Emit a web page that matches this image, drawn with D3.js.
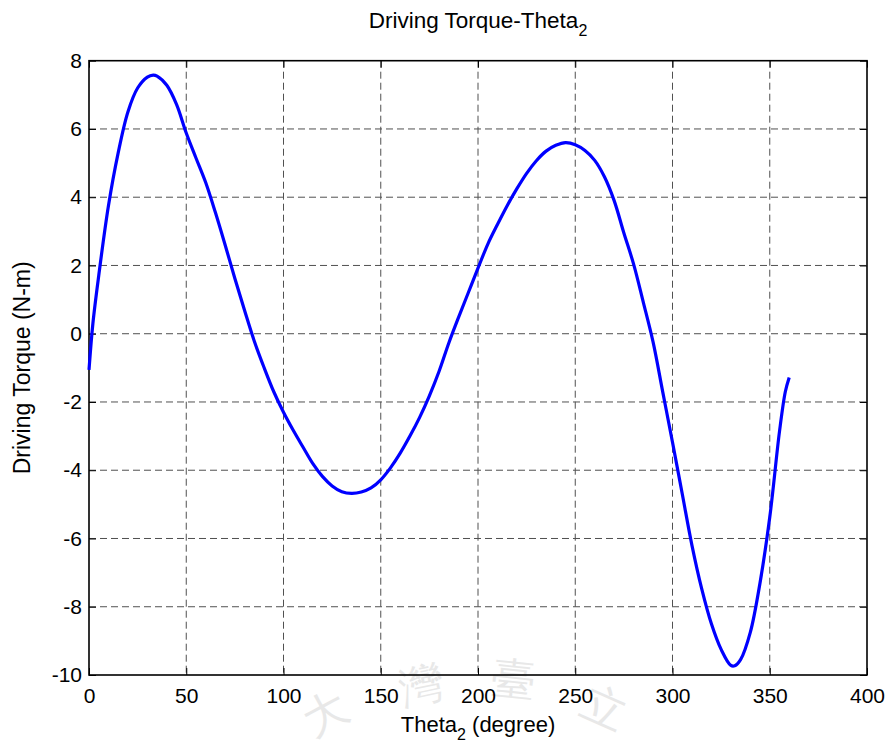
<!DOCTYPE html>
<html>
<head>
<meta charset="utf-8">
<script src="https://cdn.jsdelivr.net/npm/d3@7"></script>
<style>
  html, body { margin: 0; padding: 0; background: #fff; }
  svg { display: block; }
  text { font-family: "Liberation Sans", Arial, Helvetica, sans-serif; fill: #000; }
</style>
</head>
<body>
<svg id="chart" width="893" height="749"></svg>
<script>
// Crank angle theta2 (degrees)
const theta2 = [0, 2, 5, 10, 15, 20, 25, 30, 33, 35, 40, 45, 50, 55, 60, 65, 70, 75, 80, 85,
  90, 95, 100, 105, 110, 115, 120, 125, 130, 135, 140, 145, 150, 155, 160, 165, 170, 175,
  180, 185, 190, 195, 200, 205, 210, 215, 220, 225, 230, 235, 240, 245, 250, 255, 260,
  265, 270, 275, 280, 285, 290, 295, 300, 305, 310, 315, 320, 325, 330, 332, 335, 340,
  345, 350, 355, 358, 360];

// Driving torque (N-m)
const torque = [-1.06, 0.3, 1.7, 3.75, 5.3, 6.5, 7.2, 7.52, 7.58, 7.55, 7.28, 6.72, 5.88,
  5.15, 4.43, 3.55, 2.6, 1.62, 0.68, -0.22,
  -0.99, -1.7, -2.3, -2.83, -3.32, -3.8, -4.18, -4.46, -4.63, -4.68, -4.64, -4.52, -4.28,
  -3.93, -3.5, -3.0, -2.45, -1.82,
  -1.1, -0.27, 0.48, 1.2, 1.92, 2.62, 3.2, 3.75, 4.25, 4.7, 5.07, 5.35, 5.52, 5.6, 5.54,
  5.37, 5.08,
  4.6, 3.9, 2.95, 2.04, 0.92, -0.24, -1.71, -3.18, -4.69, -6.2, -7.47, -8.5, -9.25, -9.72,
  -9.73, -9.55, -8.75,
  -7.3, -5.38, -2.87, -1.7, -1.28];

const xTicks = [0, 50, 100, 150, 200, 250, 300, 350, 400];
const yTicks = [-10, -8, -6, -4, -2, 0, 2, 4, 6, 8];

const svg = d3.select("#chart");
const plotL = 89, plotR = 867, plotT = 60.7, plotB = 675;

const x = d3.scaleLinear().domain([0, 400]).range([plotL, plotR]);
const y = d3.scaleLinear().domain([-10, 8]).range([plotB, plotT]);

// Faint seal watermark along the lower edge of the page
const seal = svg.append("g")
  .attr("font-family", "'Noto Sans CJK TC', sans-serif").attr("font-size", 44);
[["大", 332, 727, -28], ["灣", 425, 700, -12], ["臺", 512, 694, 6], ["立", 598, 722, 24]]
  .forEach(([ch, cx, cy, rot]) => {
    seal.append("text").attr("transform", `translate(${cx},${cy}) rotate(${rot})`)
      .attr("text-anchor", "middle").style("fill", "#e8e8e8").text(ch);
  });

// Dashed grid
const grid = svg.append("g").attr("stroke", "#333").attr("stroke-width", 1)
  .attr("stroke-dasharray", "7,4").attr("opacity", 0.85);
grid.selectAll("line.gx").data(xTicks.filter(d => d > 0 && d < 400)).join("line")
  .attr("x1", d => x(d)).attr("x2", d => x(d)).attr("y1", plotT).attr("y2", plotB);
grid.selectAll("line.gy").data(yTicks.filter(d => d > -10 && d < 8)).join("line")
  .attr("x1", plotL).attr("x2", plotR).attr("y1", d => y(d)).attr("y2", d => y(d));

// Axes with inward ticks on all four sides
const tickLen = 7;
const fmt = d => String(d);
const xAxisB = d3.axisBottom(x).tickValues(xTicks).tickSize(-tickLen).tickPadding(13)
  .tickFormat(fmt);
const xAxisT = d3.axisTop(x).tickValues(xTicks).tickSize(-tickLen).tickFormat("");
const yAxisL = d3.axisLeft(y).tickValues(yTicks).tickSize(-tickLen).tickPadding(7)
  .tickFormat(fmt);
const yAxisR = d3.axisRight(y).tickValues(yTicks).tickSize(-tickLen).tickFormat("");

function styleAxis(g) {
  g.selectAll(".domain").remove();
  g.selectAll(".tick line").attr("stroke", "#000").attr("stroke-width", 1);
  g.selectAll(".tick text").attr("font-size", 21).attr("fill", "#000")
    .attr("font-family", "Liberation Sans, Arial, sans-serif");
}
svg.append("g").attr("transform", `translate(0,${plotB})`).call(xAxisB).call(styleAxis);
svg.append("g").attr("transform", `translate(0,${plotT})`).call(xAxisT).call(styleAxis);
svg.append("g").attr("transform", `translate(${plotL},0)`).call(yAxisL).call(styleAxis);
svg.append("g").attr("transform", `translate(${plotR},0)`).call(yAxisR).call(styleAxis);

// Axes box
svg.append("rect").attr("x", plotL).attr("y", plotT)
  .attr("width", plotR - plotL).attr("height", plotB - plotT)
  .attr("fill", "none").attr("stroke", "#000").attr("stroke-width", 1.6);

// Torque curve
const pts = theta2.map((t, i) => [t, torque[i]]);
const line = d3.line().x(d => x(d[0])).y(d => y(d[1])).curve(d3.curveCatmullRom.alpha(0.5));
svg.append("path").datum(pts).attr("d", line)
  .attr("fill", "none").attr("stroke", "#0000ff").attr("stroke-width", 3.2)
  .attr("stroke-linejoin", "round").attr("stroke-linecap", "butt");

// Title
const title = svg.append("text").attr("x", (plotL + plotR) / 2).attr("y", 28)
  .attr("text-anchor", "middle").attr("font-size", 22.5);
title.append("tspan").text("Driving Torque-Theta");
title.append("tspan").attr("dy", 8).attr("font-size", 16).text("2");

// X label
const xl = svg.append("text").attr("x", (plotL + plotR) / 2).attr("y", 732)
  .attr("text-anchor", "middle").attr("font-size", 22);
xl.append("tspan").text("Theta");
xl.append("tspan").attr("dy", 8).attr("font-size", 16).text("2");
xl.append("tspan").attr("dy", -8).text(" (degree)");

// Y label
svg.append("text").attr("transform", `translate(30,${(plotT + plotB) / 2}) rotate(-90)`)
  .attr("text-anchor", "middle").attr("font-size", 23).text("Driving Torque (N-m)");
</script>
</body>
</html>
